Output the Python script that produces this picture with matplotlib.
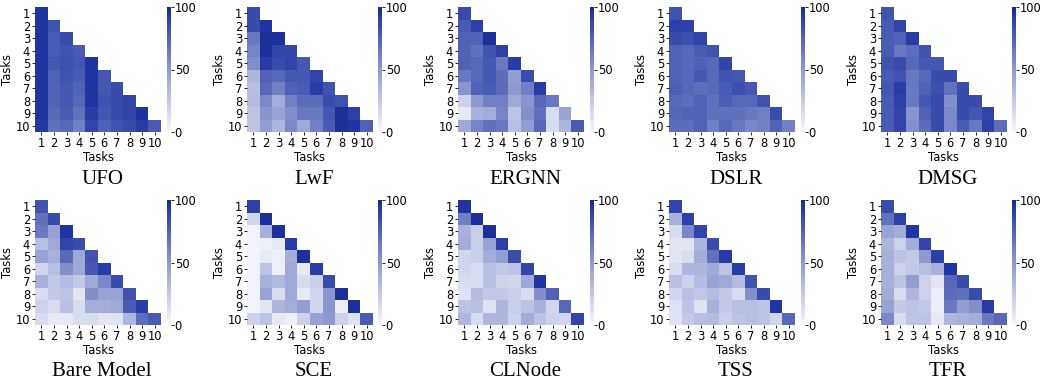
import numpy as np
import matplotlib
matplotlib.use("Agg")
import matplotlib.pyplot as plt
from matplotlib.colors import LinearSegmentedColormap

tasks = [str(i) for i in range(1, 11)]
methods = ["UFO", "LwF", "ERGNN", "DSLR", "DMSG",
           "Bare Model", "SCE", "CLNode", "TSS", "TFR"]

UFO = [
    [95],
    [95, 82],
    [95, 78, 85],
    [95, 78, 82, 78],
    [95, 80, 83, 80, 95],
    [95, 75, 82, 78, 95, 80],
    [95, 75, 80, 75, 95, 80, 85],
    [95, 75, 80, 72, 95, 82, 85, 88],
    [95, 72, 78, 68, 92, 80, 85, 88, 96],
    [94, 68, 72, 62, 88, 76, 82, 85, 92, 78],
]
LwF = [
    [85],
    [85, 95],
    [65, 97, 97],
    [60, 97, 88, 88],
    [55, 92, 85, 88, 80],
    [35, 75, 72, 80, 80, 88],
    [30, 72, 62, 75, 78, 92, 82],
    [32, 58, 40, 62, 70, 70, 85, 82],
    [28, 52, 45, 55, 65, 65, 80, 97, 90],
    [28, 48, 35, 58, 42, 62, 78, 97, 95, 75],
]
ERGNN = [
    [85],
    [78, 90],
    [75, 75, 97],
    [75, 68, 82, 90],
    [75, 72, 80, 65, 92],
    [65, 72, 80, 70, 48, 85],
    [52, 75, 78, 70, 50, 62, 92],
    [20, 50, 62, 62, 42, 52, 72, 65],
    [8, 38, 40, 60, 28, 55, 68, 15, 45],
    [42, 60, 68, 65, 30, 48, 72, 15, 35, 78],
]
DSLR = [
    [82],
    [90, 90],
    [85, 83, 88],
    [75, 72, 78, 82],
    [75, 72, 75, 72, 88],
    [75, 73, 80, 72, 82, 80],
    [77, 73, 70, 72, 78, 83, 80],
    [72, 70, 75, 68, 77, 72, 72, 82],
    [73, 75, 75, 68, 68, 68, 65, 62, 85],
    [70, 70, 75, 62, 72, 65, 58, 62, 75, 62],
]
DMSG = [
    [82],
    [78, 88],
    [78, 75, 92],
    [78, 65, 70, 82],
    [82, 85, 72, 80, 80],
    [78, 82, 65, 72, 85, 85],
    [80, 92, 65, 75, 83, 68, 85],
    [78, 90, 65, 80, 85, 55, 85, 85],
    [78, 88, 52, 75, 85, 58, 85, 80, 88],
    [78, 88, 55, 70, 85, 58, 78, 65, 90, 70],
]
BareModel = [
    [82],
    [68, 85],
    [65, 45, 95],
    [30, 42, 88, 85],
    [45, 38, 72, 42, 82],
    [18, 30, 55, 42, 80, 92],
    [38, 25, 32, 25, 42, 58, 85],
    [15, 25, 28, 10, 55, 45, 45, 82],
    [20, 15, 30, 15, 40, 40, 42, 78, 92],
    [15, 8, 8, 15, 15, 10, 12, 35, 70, 78],
]
SCE = [
    [90],
    [18, 97],
    [3, 38, 97],
    [3, 5, 8, 92],
    [3, 8, 5, 40, 97],
    [3, 28, 5, 42, 8, 92],
    [3, 38, 33, 42, 15, 22, 85],
    [3, 45, 15, 42, 8, 18, 52, 97],
    [3, 10, 35, 40, 48, 18, 52, 5, 97],
    [20, 28, 8, 5, 20, 45, 50, 20, 12, 78],
]
CLNode = [
    [95],
    [62, 97],
    [38, 22, 97],
    [40, 22, 45, 90],
    [18, 22, 40, 48, 85],
    [18, 15, 30, 25, 28, 88],
    [15, 15, 30, 20, 18, 42, 95],
    [12, 32, 25, 25, 22, 15, 55, 75],
    [28, 30, 12, 35, 22, 28, 38, 18, 72],
    [35, 15, 35, 35, 20, 40, 28, 20, 18, 88],
]
TSS = [
    [88],
    [38, 90],
    [15, 58, 88],
    [10, 10, 35, 85],
    [10, 15, 40, 68, 92],
    [15, 35, 35, 42, 28, 92],
    [30, 20, 32, 45, 42, 32, 82],
    [18, 30, 25, 32, 25, 15, 55, 85],
    [12, 28, 12, 38, 25, 30, 30, 28, 95],
    [12, 25, 30, 32, 22, 28, 30, 28, 18, 72],
]
TFR = [
    [85],
    [68, 90],
    [45, 40, 95],
    [35, 20, 40, 88],
    [38, 28, 25, 50, 90],
    [38, 20, 25, 30, 38, 95],
    [38, 28, 48, 20, 10, 72, 85],
    [40, 15, 35, 20, 5, 70, 68, 85],
    [45, 25, 28, 25, 5, 65, 48, 55, 92],
    [58, 15, 28, 28, 8, 35, 38, 40, 65, 72],
]

data = [UFO, LwF, ERGNN, DSLR, DMSG, BareModel, SCE, CLNode, TSS, TFR]


def to_matrix(rows):
    m = np.full((10, 10), np.nan)
    for i, r in enumerate(rows):
        m[i, :len(r)] = r
    return m


cmap = LinearSegmentedColormap.from_list(
    "bl", [(0.0, "#f7f8fc"), (0.5, "#8f99d0"), (0.95, "#2036a2"), (1.0, "#15288f")], N=256)

W, H = 1042, 389
fig = plt.figure(figsize=(W / 100, H / 100), dpi=100)

lefts = [35, 247, 458, 669, 881]
cb_lefts = [167, 378, 590, 801, 1012]
tops = [7, 200]
hm_w, hm_h = 126, 125
title_y = [180, 372]
fs = 8.3

for k, (name, rows) in enumerate(zip(methods, data)):
    r, c = divmod(k, 5)
    L = lefts[c]
    T = tops[r]
    ax = fig.add_axes([L / W, 1 - (T + hm_h) / H, hm_w / W, hm_h / H])
    M = np.ma.masked_invalid(to_matrix(rows))
    mesh = ax.pcolormesh(np.arange(11), np.arange(11), M, cmap=cmap,
                         vmin=0, vmax=100, linewidth=0, antialiased=False)
    ax.set_xlim(0, 10)
    ax.set_ylim(10, 0)
    ax.set_xticks(np.arange(10) + 0.5)
    ax.set_yticks(np.arange(10) + 0.5)
    ax.set_xticklabels(tasks, fontsize=fs)
    ax.set_yticklabels(tasks, fontsize=fs, rotation=0)
    ax.tick_params(length=2, width=0.6, pad=1.5)
    for s in ax.spines.values():
        s.set_visible(False)
    ax.set_xlabel("Tasks", fontsize=fs, labelpad=1)
    ax.set_ylabel("Tasks", fontsize=fs, labelpad=1)

    cax = fig.add_axes([cb_lefts[c] / W, 1 - (T + hm_h) / H, 3.5 / W, hm_h / H])
    cb = fig.colorbar(mesh, cax=cax, ticks=[0, 50, 100])
    cb.outline.set_linewidth(0)
    cax.tick_params(labelsize=fs, length=2, width=0.6, pad=1)

    fig.text((L + hm_w / 2 + 4) / W, 1 - title_y[r] / H, name,
             ha="center", va="center", fontsize=15, family="Liberation Serif")

fig.savefig("out.png", dpi=100)
